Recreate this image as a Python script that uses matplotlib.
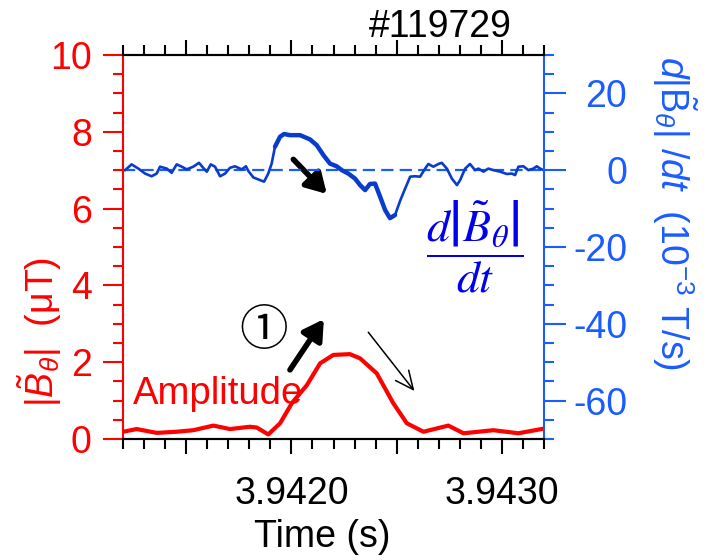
import matplotlib
matplotlib.use("Agg")
import matplotlib.pyplot as plt
import numpy as np
from matplotlib.ticker import FixedLocator, FuncFormatter

plt.rcParams["font.family"] = ["Liberation Sans", "DejaVu Sans"]
plt.rcParams["mathtext.fontset"] = "custom"
plt.rcParams["mathtext.rm"] = "Liberation Sans"
plt.rcParams["mathtext.it"] = "Liberation Sans:italic"
plt.rcParams["mathtext.bf"] = "Liberation Sans:bold"
plt.rcParams["axes.unicode_minus"] = False

RED = "#ff0000"
AXIS_BLUE = "#1a5cff"
LINE_BLUE = "#0a3ccc"
FRAC_BLUE = "#0000ee"
FS = 27

# fluctuation amplitude |B_theta| (uT)
amp_t = [3.941201, 3.941265, 3.941360, 3.941455, 3.941534, 3.941629, 3.941708,
         3.941803, 3.941835, 3.941890, 3.941946, 3.942004, 3.942073, 3.942136,
         3.942199, 3.942278, 3.942326, 3.942405, 3.942484, 3.942548, 3.942627,
         3.942745, 3.942817, 3.942959, 3.943078, 3.943197]
amp_v = [0.19, 0.26, 0.16, 0.19, 0.23, 0.35, 0.26,
         0.32, 0.30, 0.12, 0.41, 0.95, 1.40, 1.97,
         2.19, 2.21, 2.10, 1.71, 0.93, 0.41, 0.19,
         0.35, 0.15, 0.23, 0.15, 0.27]

# time derivative d|B_theta|/dt (1e-3 T/s)
dbdt_t = [3.941210, 3.941241, 3.941273, 3.941305, 3.941336, 3.941360, 3.941376,
          3.941408, 3.941431, 3.941455, 3.941479, 3.941503, 3.941534, 3.941561,
          3.941581, 3.941598, 3.941617, 3.941637, 3.941661, 3.941685, 3.941708,
          3.941732, 3.941764, 3.941784, 3.941795, 3.941819, 3.941851, 3.941870,
          3.941890, 3.941906, 3.941922, 3.941946, 3.941965, 3.941993, 3.942041,
          3.942088, 3.942120, 3.942152, 3.942183, 3.942215, 3.942239, 3.942270,
          3.942302, 3.942326, 3.942350, 3.942373, 3.942397, 3.942421, 3.942445,
          3.942468, 3.942492, 3.942516, 3.942540, 3.942564, 3.942587, 3.942611,
          3.942635, 3.942650, 3.942674, 3.942698, 3.942714, 3.942738, 3.942762,
          3.942786, 3.942801, 3.942825, 3.942848, 3.942872, 3.942888, 3.942912,
          3.942935, 3.942959, 3.942991, 3.943023, 3.943047, 3.943062, 3.943078,
          3.943102, 3.943125, 3.943149, 3.943165, 3.943181, 3.943197]
dbdt_v = [0.0, 1.5, 0.4, -0.9, -1.6, -0.9, 0.9,
          0.4, -0.7, 1.5, 0.9, 0.2, 0.9, 1.9,
          0.6, -0.4, 1.5, 0.9, -1.6, -0.9, 0.6,
          1.0, 0.2, 1.0, -0.2, -1.9, -2.6, -3.0,
          -0.9, 1.7, 6.1, 8.7, 9.4, 9.1, 9.1,
          8.0, 6.5, 3.9, 1.7, 1.0, 0.0, -0.9,
          -2.2, -3.9, -5.2, -3.6, -3.5, -6.9, -10.4,
          -12.5, -11.7, -8.0, -4.8, -1.7, -1.6, -1.7,
          0.4, 1.6, 0.9, 1.6, 1.9, 0.4, -2.2,
          -3.9, -2.6, 0.4, 1.6, 0.0, 0.4, -0.4,
          0.4, 0.0, -0.4, -1.0, -0.9, -1.3, 0.9,
          1.0, 0.0, 0.4, 1.0, 0.4, 0.0]

x_major = [3.9415, 3.9420, 3.9425, 3.9430]
x_labeled = [3.9420, 3.9430]
x_minor = np.round(np.arange(3.9412, 3.94321, 0.0001), 5)

fig = plt.figure(figsize=(7.15, 5.6), dpi=100)
ax = fig.add_axes([0.172, 0.216, 0.589, 0.686])
ax2 = ax.twinx()

# amplitude on the left axis
ax.plot(amp_t, amp_v, color=RED, lw=3.0, solid_capstyle="butt")
ax.set_xlim(3.9412, 3.9432)
ax.set_ylim(0, 10)

# derivative on the right axis, thicker through the burst
t = np.array(dbdt_t)
v = np.array(dbdt_v)
ax2.axhline(0, color=AXIS_BLUE, lw=1.6, dashes=(5.5, 2.8), zorder=1)
ax2.plot(t, v, color=LINE_BLUE, lw=1.9, zorder=2)
burst = (t >= 3.94191) & (t <= 3.94250)
ax2.plot(t[burst], v[burst], color=LINE_BLUE, lw=3.2, zorder=2,
         solid_capstyle="round")
ax2.set_ylim(-70, 30)

# x ticks: long at labelled times, medium at half steps, short minor
ax.xaxis.set_major_locator(FixedLocator(x_major))
ax.xaxis.set_minor_locator(FixedLocator(x_minor))
ax.xaxis.set_major_formatter(
    FuncFormatter(lambda x, pos: f"{x:.4f}" if any(abs(x - l) < 1e-7 for l in x_labeled) else ""))
ax.tick_params(axis="x", which="major", direction="out", length=10.8, width=1.5,
               top=True, bottom=True, labelsize=FS, pad=16, colors="black")
ax.tick_params(axis="x", which="minor", direction="out", length=7.2, width=1.5,
               top=True, bottom=True)
for tk in ax.xaxis.get_major_ticks():
    if any(abs(tk.get_loc() - l) < 1e-7 for l in x_labeled):
        tk.tick1line.set_markersize(15)
        tk.tick2line.set_markersize(15)

# left axis
ax.yaxis.set_major_locator(FixedLocator([0, 2, 4, 6, 8, 10]))
ax.yaxis.set_minor_locator(FixedLocator(np.arange(0, 10.01, 0.5)))
ax.tick_params(axis="y", which="major", direction="out", length=14.4, width=1.5,
               colors=RED, labelsize=FS, pad=8)
ax.tick_params(axis="y", which="minor", direction="out", length=7.2, width=1.5,
               colors=RED)

# right axis
ax2.yaxis.set_major_locator(FixedLocator([-60, -40, -20, 0, 20]))
ax2.yaxis.set_minor_locator(FixedLocator(np.arange(-70, 30.1, 5)))
ax2.tick_params(axis="y", which="major", direction="out", length=15.8, width=1.5,
                colors=AXIS_BLUE, labelsize=FS, pad=44)
ax2.tick_params(axis="y", which="minor", direction="out", length=7.2, width=1.5,
                colors=AXIS_BLUE)
for lbl in ax2.get_yticklabels():
    lbl.set_horizontalalignment("right")

for a in (ax, ax2):
    for side in ("top", "bottom", "left", "right"):
        a.spines[side].set_linewidth(1.5)
ax.spines["left"].set_color(RED)
ax2.spines["left"].set_visible(False)
ax.spines["right"].set_visible(False)
ax2.spines["right"].set_color(AXIS_BLUE)

ax.set_ylabel(r"$|\tilde{B}_\theta|$  (μT)", color=RED, fontsize=FS,
              va="center", ha="center")
ax.yaxis.set_label_coords(-0.197, 0.28)
ax2.set_ylabel(r"$d|\tilde{\mathrm{B}}_\theta|\ /dt$  (10$^{-3}$ T/s)",
               color=AXIS_BLUE, fontsize=FS, rotation=270, va="center", ha="center")
ax2.yaxis.set_label_coords(1.31, 0.587)
ax.set_xlabel("Time (s)", fontsize=FS, va="baseline")
ax.xaxis.set_label_coords(0.474, -0.282)

fig.text(440 / 715, 1 - 37 / 560, "#119729", fontsize=FS, ha="center", va="baseline")

# annotations
ax.text(3.941248, 0.91, "Amplitude", color=RED, fontsize=27.5, va="baseline")
ax.text(3.941867, 2.80, "①", fontsize=35, ha="center", va="center",
        family=["Noto Sans CJK JP", "DejaVu Sans"])
ax.text(3.942872, 5.0, r"$\dfrac{d\left|\tilde{B}_\theta\right|}{dt}$", color=FRAC_BLUE,
        fontsize=33, ha="center", va="center", math_fontfamily="stix")

thick = dict(arrowstyle="-|>,head_length=0.6,head_width=0.35", lw=4, color="black",
             shrinkA=0, shrinkB=0, mutation_scale=20)
ax.annotate("", xy=(3.942168, 6.38), xytext=(3.942009, 7.28), arrowprops=thick)
ax.annotate("", xy=(3.942154, 3.12), xytext=(3.941993, 1.80), arrowprops=thick)
ax.annotate("", xy=(3.942584, 1.25), xytext=(3.942365, 2.78),
            arrowprops=dict(arrowstyle="->,head_length=0.65,head_width=0.3", lw=1.1,
                            color="black", shrinkA=0, shrinkB=0, mutation_scale=20))

fig.savefig("out.png", dpi=100)
